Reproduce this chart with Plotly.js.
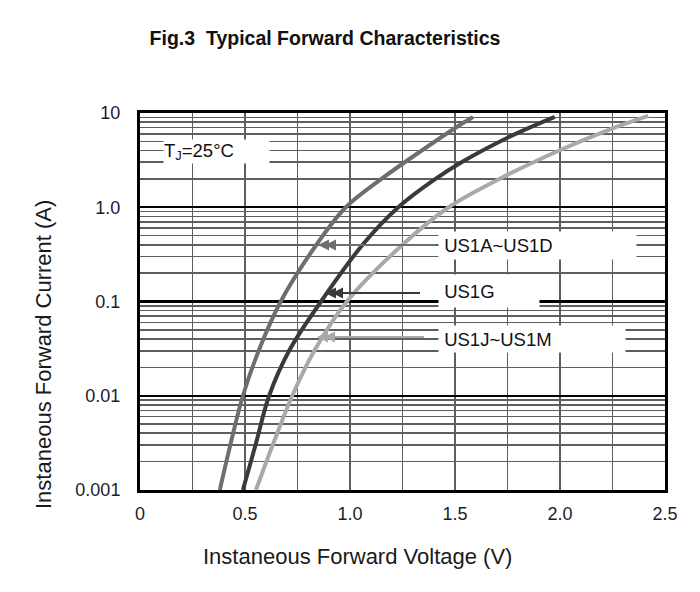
<!DOCTYPE html>
<html>
<head>
<meta charset="utf-8">
<script src="https://cdn.plot.ly/plotly-3.0.1.min.js"></script>
<style>html,body{margin:0;padding:0;background:#fff;}#chart{width:700px;height:592px;}</style>
</head>
<body>
<div id="chart"></div>
<script>
// ---- Data ----
const voltsAD = [0.38, 0.43, 0.49, 0.565, 0.67, 0.84, 0.98, 1.143, 1.29, 1.51, 1.586];
const currAD  = [0.001, 0.003, 0.01, 0.03, 0.1, 0.4, 1.0, 1.95, 3.33, 7.15, 9.07];

const voltsG = [0.49, 0.55, 0.615, 0.71, 0.862, 1.06, 1.23, 1.40, 1.535, 1.76, 1.975];
const currG  = [0.001, 0.003, 0.01, 0.03, 0.1, 0.4, 1.0, 1.95, 3.04, 5.6, 9.1];

const voltsJM = [0.552, 0.632, 0.725, 0.83, 0.985, 1.25, 1.47, 1.72, 1.98, 2.23, 2.42];
const currJM  = [0.001, 0.003, 0.01, 0.03, 0.1, 0.4, 1.0, 2.04, 3.86, 6.6, 9.3];

const xTickVals = [0, 0.5, 1.0, 1.5, 2.0, 2.5];
const xTickText = ['0', '0.5', '1.0', '1.5', '2.0', '2.5'];
const yTickVals = [0.001, 0.01, 0.1, 1, 10];
const yTickText = ['0.001', '0.01', '0.1', '1.0', '10'];
const seriesNames = ['US1A~US1D', 'US1G', 'US1J~US1M'];

// ---- Styles ----
const colAD = '#6e6e6e', colG = '#3a3a3a', colJM = '#a9a9a9';
const FONT = 'Liberation Sans, Arial, sans-serif';

// minor gridlines 2..9 per decade
const yMinor = [];
for (let d = -3; d <= 0; d++) for (let m = 2; m <= 9; m++) yMinor.push(m * Math.pow(10, d));

function trace(x, y, c, n) {
  return {x: x, y: y, name: n, mode: 'lines', type: 'scatter',
          line: {color: c, width: 4, shape: 'spline', smoothing: 1.0},
          hoverinfo: 'skip'};
}
const data = [
  trace(voltsAD, currAD, colAD, seriesNames[0]),
  trace(voltsG, currG, colG, seriesNames[1]),
  trace(voltsJM, currJM, colJM, seriesNames[2])
];

// plot area in pixels: left 140, right 665, top 113, bottom 490
const L = 140, R = 665, T = 113, B = 490;
const px = v => (v - L) / (R - L);          // pixel x -> paper
const py = v => (B - v) / (B - T);          // pixel y -> paper

function box(text, x0, x1, yc, h, fs) {
  return {xref: 'paper', yref: 'paper', x: px(x0), y: py(yc), xanchor: 'left', yanchor: 'middle',
          text: text, showarrow: false, bgcolor: '#ffffff', width: x1 - x0, height: h,
          align: 'left', borderpad: 0, font: {family: FONT, size: fs, color: '#111'}};
}
function arrow(hx, hy, tx, c) {
  return {xref: 'paper', yref: 'paper', x: px(hx), y: py(hy), ax: tx - hx, ay: 0,
          axref: 'pixel', ayref: 'pixel', text: ' ', showarrow: true,
          arrowhead: 2, arrowsize: 1.1, arrowwidth: 2, arrowcolor: c};
}

const annotations = [
  box('T<sub>J</sub>=25°C', 163, 268, 151.5, 23, 18.5),
  box('&nbsp;' + seriesNames[0], 438, 635, 245, 27, 18.5),
  box('&nbsp;' + seriesNames[1], 438, 538, 291, 32, 18.5),
  box('&nbsp;' + seriesNames[2], 438, 624, 339, 26, 18.5),
  arrow(318, 245, 438, colAD), arrow(325, 245, 438, colAD),
  arrow(325, 293, 423, colG), arrow(332, 293, 423, colG),
  arrow(317, 337, 427, colJM), arrow(324, 337, 427, colJM),
  {xref: 'paper', yref: 'paper', x: px(357), y: py(556), xanchor: 'center', yanchor: 'middle',
   text: 'Instaneous Forward Voltage (V)', showarrow: false,
   font: {family: FONT, size: 22, color: '#1a1a1a'}},
  {xref: 'paper', yref: 'paper', x: px(43), y: py(355), xanchor: 'center', yanchor: 'middle',
   text: 'Instaneous Forward Current (A)', showarrow: false, textangle: -90,
   font: {family: FONT, size: 22, color: '#1a1a1a'}}
];

const layout = {
  width: 700, height: 592,
  margin: {l: L, r: 700 - R, t: T, b: 592 - B, pad: 0},
  paper_bgcolor: '#ffffff', plot_bgcolor: '#ffffff',
  showlegend: false,
  title: {text: '<b>Fig.3  Typical Forward Characteristics</b>', x: 325 / 700, xref: 'container',
          y: 1 - 38 / 592, yref: 'container', xanchor: 'center', yanchor: 'middle',
          font: {family: FONT, size: 19.5, color: '#111'}},
  xaxis: {range: [0, 2.5], tickvals: xTickVals, ticktext: xTickText, ticks: '',
          showgrid: true, gridcolor: '#5e5e5e', gridwidth: 1.6, zeroline: false,
          showline: true, mirror: true, linecolor: '#000', linewidth: 3,
          ticklabelstandoff: 5,
          tickfont: {family: FONT, size: 18, color: '#1c1c2c'},
          minor: {dtick: 0.25, tick0: 0, showgrid: true, gridcolor: '#5e5e5e', gridwidth: 1.6, ticks: ''}},
  yaxis: {type: 'log', range: [-3, 1], tickvals: yTickVals, ticktext: yTickText, ticks: '',
          showgrid: true, gridcolor: '#000000', gridwidth: 2.2, zeroline: false,
          showline: true, mirror: true, linecolor: '#000', linewidth: 3,
          ticklabelstandoff: 13,
          tickfont: {family: FONT, size: 18, color: '#1c1c2c'},
          minor: {tickmode: 'array', tickvals: yMinor, showgrid: true, gridcolor: '#5e5e5e', gridwidth: 1.6, ticks: ''}},
  annotations: annotations
};

Plotly.newPlot('chart', data, layout, {displayModeBar: false, staticPlot: true});
</script>
</body>
</html>
